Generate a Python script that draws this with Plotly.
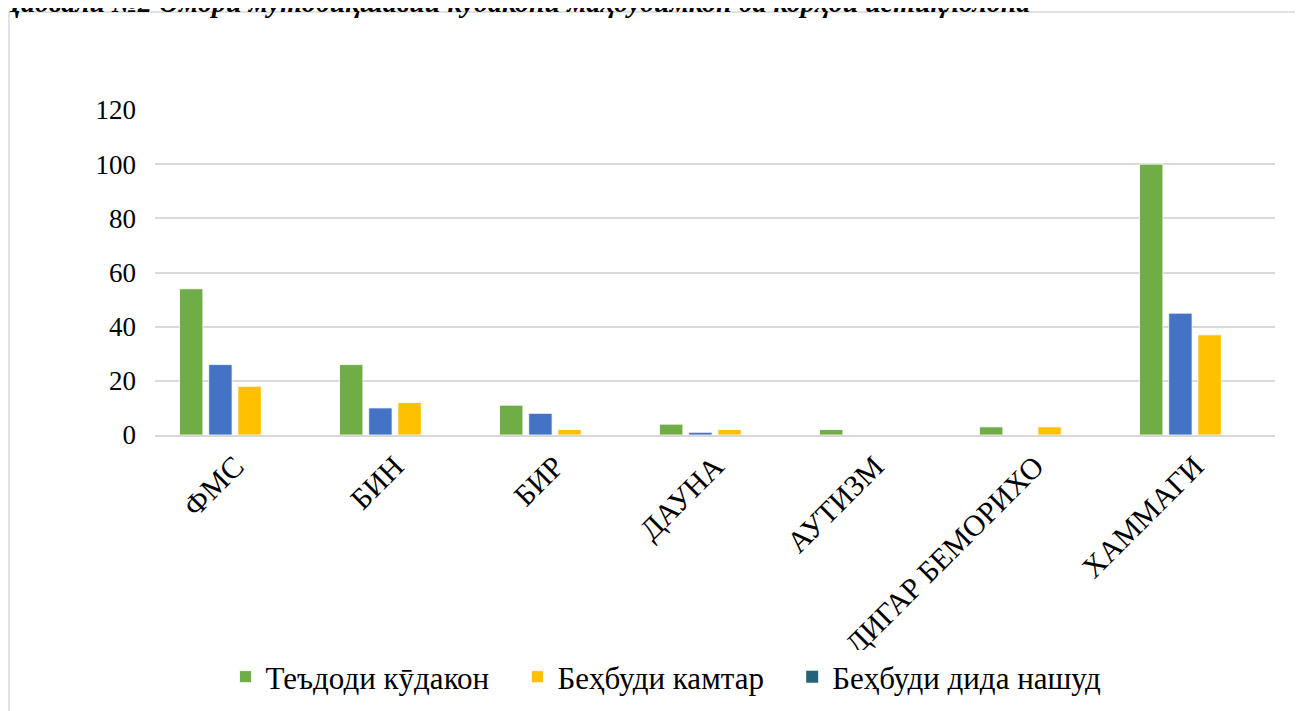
import plotly.graph_objects as go

categories = ["ФМС", "БИН", "БИР", "ДАУНА", "АУТИЗМ", "ДИГАР БЕМОРИХО", "ХАММАГИ"]
children = [54, 26, 11, 4, 2, 3, 100]
blue_series = [26, 10, 8, 1, 0, 0, 45]
less_improve = [18, 12, 2, 2, 0, 3, 37]
no_improve = [0, 0, 0, 0, 0, 0, 0]

title_text = "Ҷадвали №2 Омори мутобиқшавии кӯдакони маҳдудимкон ба корҳои истиқлолона"

OFF = 8  # page body margin
W, H = 1303 - OFF, 711 - OFF
L, R, T, B = 155 - OFF, 28, 110 - OFF, 276
PW, PH = W - L - R, H - T - B

def px_x(x):
    return (x - OFF - L) / PW

def px_y(y):
    return 1 - (y - OFF - T) / PH

FONT = "Liberation Serif, serif"
PAD = "\u00a0\u00a0\u00a0"

fig = go.Figure()
line = dict(color="rgba(255,255,255,0.8)", width=1)
fig.add_bar(x=categories, y=children, name="Теъдоди кӯдакон" + PAD,
            marker=dict(color="#70ad47", line=line), legendrank=1)
fig.add_bar(x=categories, y=blue_series, name="",
            marker=dict(color="#4472c4", line=line), showlegend=False)
fig.add_bar(x=categories, y=less_improve, name="Беҳбуди камтар" + PAD,
            marker=dict(color="#ffc000", line=line), legendrank=2)
fig.add_bar(x=categories, y=no_improve, name="Беҳбуди дида нашуд",
            marker=dict(color="#276278", line=dict(width=0)), legendrank=3)

fig.update_layout(
    width=W, height=H,
    margin=dict(l=L, r=R, t=T, b=B, autoexpand=False),
    paper_bgcolor="white", plot_bgcolor="white",
    barmode="group", bargap=0.27, bargroupgap=0.2,
    font=dict(family=FONT, size=26, color="black"),
    showlegend=True,
    legend=dict(orientation="h", x=px_x(666), xanchor="center",
                y=px_y(677), yanchor="middle",
                font=dict(family=FONT, size=31, color="black"),
                traceorder="normal"),
    xaxis=dict(tickangle=-45, showgrid=False, showline=True,
               linecolor="#d9d9d9", linewidth=1.5, ticks="",
               tickfont=dict(family=FONT, size=30, color="black"),
               fixedrange=True),
    yaxis=dict(range=[0, 120], tickvals=[0, 20, 40, 60, 80, 100, 120],
               showgrid=True, gridcolor="#d9d9d9", gridwidth=1.5,
               zeroline=False, showline=False, ticks="",
               ticklabelstandoff=18,
               tickfont=dict(family=FONT, size=27, color="black"),
               fixedrange=True),
    shapes=[dict(type="rect", xref="paper", yref="paper",
                 x0=px_x(9), x1=px_x(1313), y0=px_y(12), y1=px_y(721),
                 line=dict(color="#d9d9d9", width=1.5), fillcolor="rgba(0,0,0,0)",
                 layer="below")],
    annotations=[dict(text="<b><i>" + title_text + "</i></b>", xref="paper", yref="paper",
                      x=px_x(-2), xanchor="left", y=px_y(2), yanchor="middle",
                      showarrow=False,
                      font=dict(family=FONT, size=28, color="black"))],
)

fig.write_html("out.html")
